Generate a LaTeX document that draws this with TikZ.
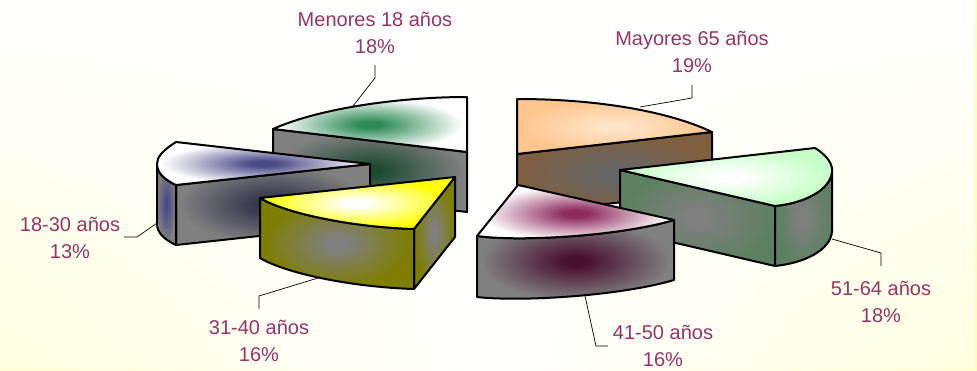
\documentclass[tikz,border=0pt]{standalone}
\usepackage{fontspec}
\setmainfont{Liberation Sans}
\usetikzlibrary{fadings}
\definecolor{bgY}{HTML}{FFFFBC}
\definecolor{lab}{HTML}{993366}
\definecolor{mgreen}{HTML}{2E8B57}
\definecolor{mgreenD}{HTML}{1E4A34}
\definecolor{navy}{HTML}{4A4A88}
\definecolor{navyD}{HTML}{30304A}
\definecolor{sgray}{HTML}{808080}
\definecolor{olive}{HTML}{7E7E00}
\definecolor{peach}{HTML}{FFC690}
\definecolor{peachL}{HTML}{FFE4C8}
\definecolor{brown}{HTML}{7F5F40}
\definecolor{lgreen}{HTML}{C8FFC8}
\definecolor{ggreen}{HTML}{5E8062}
\definecolor{mag}{HTML}{8E2A5C}
\definecolor{magD}{HTML}{4A1030}
\colorlet{ci}{white}\colorlet{co}{white}
\pgfdeclareradialshading[ci,co]{soft}{\pgfpointorigin}{color(0bp)=(ci); color(3bp)=(ci); color(24bp)=(co); color(50bp)=(co)}
\tikzfading[name=tbfade, top color=transparent!0, middle color=transparent!100, bottom color=transparent!45]
\tikzset{
  outl/.style={draw=black,line width=2pt,line join=round},
  sh/.style 2 args={/utils/exec={\colorlet{ci}{#1}\colorlet{co}{#2}},shading=soft},
  leader/.style={draw=black,line width=0.7pt},
  lbl/.style={text=lab,font=\fontsize{20}{27.5}\selectfont,align=center,inner sep=0pt},
}
\begin{document}
\begin{tikzpicture}[x=1pt,y=-1pt]
\useasboundingbox (0,0) rectangle (977,370);
\shade[left color=bgY,right color=bgY,middle color=white] (0,0) rectangle (977,370);
\fill[white,path fading=tbfade] (0,0) rectangle (977,370);

% Menores 18 (back left)
\shade[sh={mgreenD}{sgray}] (273,129) -- (467,152) -- (467,212) -- (273,189) -- cycle;
\draw[outl] (273,129) -- (467,152) -- (467,212) -- (273,189) -- cycle;
\shade[sh={mgreen}{white}] (467,152) -- (273,129) .. controls (320,108) and (400,97) .. (467,97) -- cycle;
\draw[outl] (467,152) -- (273,129) .. controls (320,108) and (400,97) .. (467,97) -- cycle;

% Mayores 65 (back right)
\shade[sh={sgray!80!black}{brown}] (517,154) -- (712,132) -- (712,192) -- (517,214) -- cycle;
\draw[outl] (517,154) -- (712,132) -- (712,192) -- (517,214) -- cycle;
\shade[sh={peachL}{peach}] (517,154) -- (517,99) .. controls (600,99) and (670,112) .. (712,132) -- cycle;
\draw[outl] (517,154) -- (517,99) .. controls (600,99) and (670,112) .. (712,132) -- cycle;

% 18-30 (left)
\shade[sh={navyD}{sgray}] (176,185) -- (370,164) -- (370,224) -- (176,245) -- cycle;
\draw[outl] (176,185) -- (370,164) -- (370,224) -- (176,245) -- cycle;
\shade[sh={navy}{sgray}] (157,164) .. controls (157,173) and (165,180) .. (176,185) -- (176,245) .. controls (165,240) and (157,233) .. (157,224) -- cycle;
\draw[outl] (157,164) .. controls (157,173) and (165,180) .. (176,185) -- (176,245) .. controls (165,240) and (157,233) .. (157,224) -- cycle;
\shade[sh={navy}{white}] (370,164) -- (176,142) .. controls (162,151) and (157,157) .. (157,164) .. controls (157,173) and (165,180) .. (176,185) -- cycle;
\draw[outl] (370,164) -- (176,142) .. controls (162,151) and (157,157) .. (157,164) .. controls (157,173) and (165,180) .. (176,185) -- cycle;

% 51-64 (right)
\shade[sh={sgray}{ggreen}] (620,170) -- (775,206) -- (775,266) -- (620,230) -- cycle;
\draw[outl] (620,170) -- (775,206) -- (775,266) -- (620,230) -- cycle;
\shade[sh={sgray}{ggreen}] (832,172) .. controls (830,190) and (805,203) .. (775,206) -- (775,266) .. controls (805,263) and (830,250) .. (832,232) -- cycle;
\draw[outl] (832,172) .. controls (830,190) and (805,203) .. (775,206) -- (775,266) .. controls (805,263) and (830,250) .. (832,232) -- cycle;
\shade[sh={white}{lgreen}] (620,170) -- (815,148) .. controls (828,156) and (833,165) .. (832,172) .. controls (830,190) and (805,203) .. (775,206) -- cycle;
\draw[outl] (620,170) -- (815,148) .. controls (828,156) and (833,165) .. (832,172) .. controls (830,190) and (805,203) .. (775,206) -- cycle;

% 31-40 (front left)
\shade[sh={sgray}{olive}] (414,229) -- (455,177) -- (455,237) -- (414,289) -- cycle;
\draw[outl] (414,229) -- (455,177) -- (455,237) -- (414,289) -- cycle;
\shade[sh={sgray}{olive}] (260,198) .. controls (285,213) and (350,227) .. (414,229) -- (414,289) .. controls (350,287) and (285,273) .. (260,258) -- cycle;
\draw[outl] (260,198) .. controls (285,213) and (350,227) .. (414,229) -- (414,289) .. controls (350,287) and (285,273) .. (260,258) -- cycle;
\shade[sh={white}{yellow}] (455,177) -- (260,198) .. controls (285,213) and (350,227) .. (414,229) -- cycle;
\draw[outl] (455,177) -- (260,198) .. controls (285,213) and (350,227) .. (414,229) -- cycle;

% 41-50 (front right)
\shade[sh={magD}{sgray}] (477,236) .. controls (520,242) and (620,236) .. (674,220) -- (674,280) .. controls (620,296) and (520,302) .. (477,297) -- cycle;
\draw[outl] (477,236) .. controls (520,242) and (620,236) .. (674,220) -- (674,280) .. controls (620,296) and (520,302) .. (477,297) -- cycle;
\shade[sh={mag}{white}] (518,185) -- (477,236) .. controls (520,242) and (620,236) .. (674,220) -- cycle;
\draw[outl] (518,185) -- (477,236) .. controls (520,242) and (620,236) .. (674,220) -- cycle;

% labels
\node[lbl] (lmen) at (375,33) {Menores 18 años\\18\%};
\node[lbl] (lmay) at (692,52) {Mayores 65 años\\19\%};
\node[lbl] (l1830) at (70,238) {18-30 años\\13\%};
\node[lbl] (l3140) at (259,341) {31-40 años\\16\%};
\node[lbl] (l4150) at (663,346) {41-50 años\\16\%};
\node[lbl] (l5164) at (881,302) {51-64 años\\18\%};

% leader lines
\coordinate (men1) at (375,65); \coordinate (men2) at (375,78); \coordinate (men3) at (353,106);
\coordinate (may1) at (692,85); \coordinate (may2) at (692,98); \coordinate (may3) at (640,107);
\coordinate (a1) at (124,237); \coordinate (a2) at (137,237); \coordinate (a3) at (157,223);
\coordinate (b1) at (259,309); \coordinate (b2) at (259,296); \coordinate (b3) at (318,278);
\coordinate (c1) at (608,346); \coordinate (c2) at (596,346); \coordinate (c3) at (585,296);
\coordinate (d1) at (881,266); \coordinate (d2) at (881,253); \coordinate (d3) at (832,239);
\draw[leader] (men1) -- (men2) -- (men3);
\draw[leader] (may1) -- (may2) -- (may3);
\draw[leader] (a1) -- (a2) -- (a3);
\draw[leader] (b1) -- (b2) -- (b3);
\draw[leader] (c1) -- (c2) -- (c3);
\draw[leader] (d1) -- (d2) -- (d3);
\end{tikzpicture}
\end{document}
